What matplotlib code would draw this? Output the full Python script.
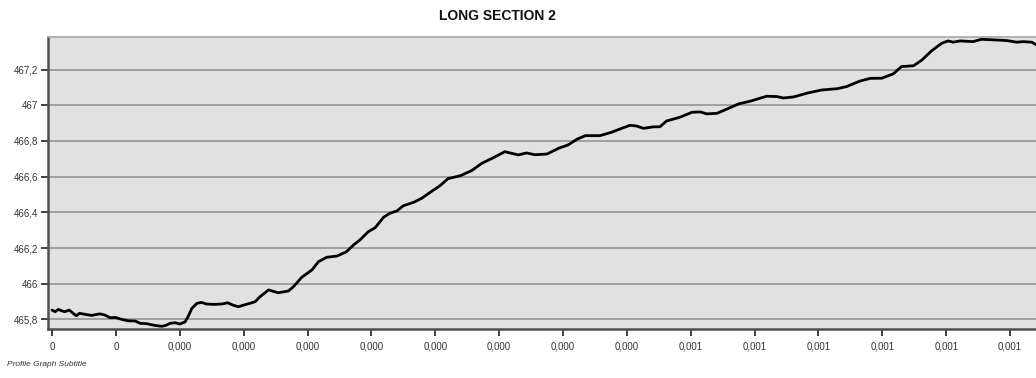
import matplotlib
matplotlib.use("Agg")
import matplotlib.pyplot as plt

# Distance along the section (in tick-step units) and elevation
distance = [0.00, 0.05, 0.10, 0.15, 0.20, 0.27, 0.32, 0.38, 0.43, 0.52, 0.62, 0.75,
            0.83, 0.91, 0.99, 1.09, 1.19, 1.30, 1.38, 1.48, 1.61, 1.72, 1.78, 1.85,
            1.93, 2.00, 2.08, 2.13, 2.19, 2.27, 2.34, 2.42, 2.53, 2.66, 2.75, 2.84,
            2.92, 3.00, 3.10, 3.18, 3.25, 3.39, 3.54, 3.70, 3.78, 3.91, 4.07, 4.17,
            4.30, 4.46, 4.61, 4.72, 4.82, 4.95, 5.06, 5.19, 5.29, 5.40, 5.50, 5.66,
            5.79, 5.92, 6.07, 6.20, 6.39, 6.57, 6.73, 6.88, 7.09, 7.30, 7.43, 7.56,
            7.75, 7.93, 8.08, 8.22, 8.35, 8.58, 8.76, 8.92, 9.05, 9.15, 9.26, 9.41,
            9.52, 9.62, 9.83, 10.02, 10.15, 10.25, 10.41, 10.56, 10.75, 10.93, 11.19,
            11.35, 11.45, 11.61, 11.82, 12.05, 12.29, 12.44, 12.65, 12.81, 12.99,
            13.17, 13.30, 13.49, 13.62, 13.77, 13.93, 14.03, 14.11, 14.22, 14.42,
            14.55, 14.74, 14.95, 15.10, 15.21, 15.34, 15.41]
elevation = [465.852, 465.843, 465.856, 465.848, 465.843, 465.852, 465.837, 465.820,
             465.834, 465.828, 465.822, 465.831, 465.824, 465.809, 465.811, 465.800,
             465.792, 465.791, 465.778, 465.776, 465.766, 465.761, 465.766, 465.778,
             465.781, 465.774, 465.785, 465.815, 465.862, 465.890, 465.895, 465.886,
             465.884, 465.886, 465.893, 465.879, 465.871, 465.880, 465.890, 465.899,
             465.925, 465.965, 465.949, 465.959, 465.983, 466.036, 466.077, 466.123,
             466.148, 466.155, 466.179, 466.217, 466.245, 466.291, 466.314, 466.372,
             466.395, 466.408, 466.437, 466.456, 466.479, 466.512, 466.548, 466.589,
             466.605, 466.634, 466.675, 466.701, 466.740, 466.722, 466.733, 466.723,
             466.727, 466.759, 466.778, 466.810, 466.830, 466.830, 466.849, 466.871,
             466.888, 466.884, 466.871, 466.879, 466.880, 466.912, 466.933, 466.961,
             466.963, 466.952, 466.955, 466.978, 467.008, 467.023, 467.051, 467.049,
             467.041, 467.047, 467.068, 467.086, 467.093, 467.105, 467.136, 467.151,
             467.152, 467.176, 467.217, 467.222, 467.254, 467.305, 467.348, 467.361,
             467.354, 467.361, 467.357, 467.370, 467.367, 467.363, 467.354, 467.357,
             467.354, 467.339]

x_tick_labels = ["0", "0", "0,000", "0,000", "0,000", "0,000", "0,000", "0,000",
                 "0,000", "0,000", "0,001", "0,001", "0,001", "0,001", "0,001", "0,001"]
y_ticks = [465.8, 466.0, 466.2, 466.4, 466.6, 466.8, 467.0, 467.2]
y_tick_labels = ["465,8", "466", "466,2", "466,4", "466,6", "466,8", "467", "467,2"]

plt.rcParams['font.family'] = ['Liberation Sans', 'DejaVu Sans']

fig = plt.figure(figsize=(10.36, 3.78), dpi=100)
ax = fig.add_axes([48 / 1036, 1 - 329 / 378, 1 - 48 / 1036, (329 - 37) / 378])
ax.set_facecolor('#e1e1e1')

ax.plot(distance, elevation, color='black', linewidth=2.0, solid_joinstyle='round',
        solid_capstyle='round', zorder=3)

ax.set_xlim(-0.063, 15.406)
ax.set_ylim(465.746, 467.383)

ax.set_yticks(y_ticks)
ax.set_yticklabels(y_tick_labels)
ax.set_xticks(range(len(x_tick_labels)))
ax.set_xticklabels(x_tick_labels)

ax.grid(axis='y', color='#a0a0a0', linewidth=1.4, zorder=1)
ax.grid(axis='x', visible=False)

for side in ['left', 'bottom']:
    ax.spines[side].set_color('#505050')
    ax.spines[side].set_linewidth(1.8)
ax.spines['top'].set_color('#a8a8a8')
ax.spines['top'].set_linewidth(1.2)
ax.spines['right'].set_visible(False)

ax.tick_params(axis='both', direction='out', length=5, width=1.4, color='#404040',
               labelsize=7, labelcolor='#333333')
ax.tick_params(axis='x', pad=4)
ax.tick_params(axis='y', pad=2)

fig.text(497 / 1036, 1 - 16 / 378, "LONG SECTION 2", ha='center', va='center',
         fontsize=10, fontweight='bold', color='#111111')
fig.text(7 / 1036, 1 - 364 / 378, "Profile Graph Subtitle", ha='left', va='center',
         fontsize=6, fontstyle='italic', color='#333333')

fig.savefig('out.png', dpi=100)
